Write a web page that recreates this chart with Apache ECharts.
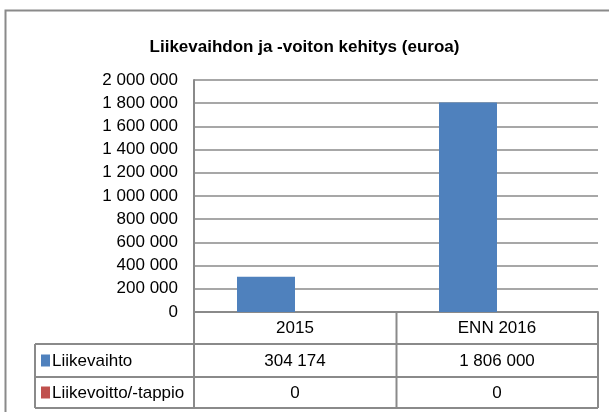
<!DOCTYPE html>
<html>
<head>
<meta charset="utf-8">
<script src="https://cdn.jsdelivr.net/npm/echarts@6/dist/echarts.min.js"></script>
<style>
  html, body { margin: 0; padding: 0; background: #fff; }
  #chart { width: 609px; height: 412px; }
</style>
</head>
<body>
<div id="chart"></div>
<script>
const titleText = 'Liikevaihdon ja -voiton kehitys (euroa)';
const categories = ['2015', 'ENN 2016'];
const seriesNames = ['Liikevaihto', 'Liikevoitto/-tappio'];
const liikevaihto = [304174, 1806000];
const liikevoitto = [0, 0];
const colors = ['#4f81bd', '#c0504d'];

const font = '"Liberation Sans", Arial, sans-serif';
const lineColor = '#8a8a8a';
const fs = 17;

// grid edges
const gLeft = 194, gTop = 80, gRight = 598, gBottom = 312;
const tableLeft = 35;
const rowY = [312, 344, 377, 408];

function fmt(v) {
  return String(v).replace(/\B(?=(\d{3})+(?!\d))/g, ' ');
}

const chart = echarts.init(document.getElementById('chart'));

function buildTable() {
  let g = [];
  // outer border (only top and left visible)
  g.push({type: 'rect', shape: {x: 5.5, y: 10.5, width: 800, height: 600},
    style: {fill: null, stroke: lineColor, lineWidth: 2}, silent: true});

  const colX = [gLeft, (gLeft + gRight) / 2 + 0.5, gRight];
  // vertical lines of table
  colX.forEach(function(x) {
    g.push({type: 'line', shape: {x1: x, y1: rowY[0], x2: x, y2: rowY[3]},
      style: {stroke: lineColor, lineWidth: 2}});
  });
  g.push({type: 'line', shape: {x1: tableLeft, y1: rowY[1], x2: tableLeft, y2: rowY[3]},
    style: {stroke: lineColor, lineWidth: 2}});
  // horizontal lines
  for (let i = 1; i < rowY.length; i++) {
    g.push({type: 'line', shape: {x1: tableLeft, y1: rowY[i], x2: gRight, y2: rowY[i]},
      style: {stroke: lineColor, lineWidth: 2}});
  }

  const rows = [liikevaihto, liikevoitto];
  const catW = (gRight - gLeft) / categories.length;
  rows.forEach(function(vals, r) {
    const cy = (rowY[r + 1] + rowY[r + 2]) / 2;
    g.push({type: 'rect', shape: {x: 41, y: cy - 6, width: 9, height: 12},
      style: {fill: colors[r]}});
    g.push({type: 'text', x: 52, y: cy + 1,
      style: {text: seriesNames[r], font: fs + 'px ' + font, fill: '#000',
        textAlign: 'left', textVerticalAlign: 'middle'}});
    vals.forEach(function(v, c) {
      g.push({type: 'text', x: gLeft + catW * (c + 0.5), y: cy + 1,
        style: {text: fmt(v), font: fs + 'px ' + font, fill: '#000',
          textAlign: 'center', textVerticalAlign: 'middle'}});
    });
  });
  return g;
}

const option = {
  animation: false,
  backgroundColor: '#fff',
  title: {
    text: titleText,
    left: 'center',
    top: 34,
    textStyle: {fontFamily: font, fontSize: 17, fontWeight: 'bold', color: '#000'}
  },
  grid: {left: gLeft, top: gTop, width: gRight - gLeft, height: gBottom - gTop},
  xAxis: {
    type: 'category',
    data: categories,
    axisLine: {lineStyle: {color: lineColor, width: 2}},
    axisTick: {show: false},
    axisLabel: {fontFamily: font, fontSize: fs, color: '#000', margin: 8, verticalAlign: 'top'}
  },
  yAxis: {
    type: 'value',
    min: 0,
    max: 2000000,
    interval: 200000,
    axisLine: {show: true, lineStyle: {color: lineColor, width: 2}},
    axisTick: {show: false},
    splitLine: {lineStyle: {color: lineColor, width: 1.5}},
    axisLabel: {fontFamily: font, fontSize: fs, color: '#000', margin: 16,
      formatter: function(v) { return fmt(v); }}
  },
  series: [
    {name: seriesNames[0], type: 'bar', data: liikevaihto, barWidth: 58, barGap: '0%',
      itemStyle: {color: colors[0]}},
    {name: seriesNames[1], type: 'bar', data: liikevoitto, barWidth: 58, barGap: '0%',
      itemStyle: {color: colors[1]}}
  ],
  graphic: buildTable()
};

chart.setOption(option);
</script>
</body>
</html>
